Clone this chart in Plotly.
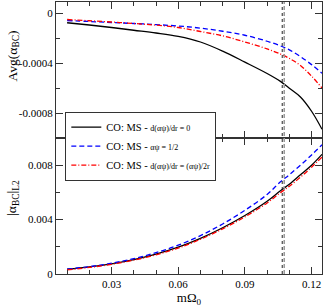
import plotly.graph_objects as go

# ---- data ----
x_grid = [0.010, 0.020, 0.030, 0.040, 0.050, 0.060, 0.070, 0.080, 0.090, 0.100, 0.106,
          0.110, 0.115, 0.120, 0.1247]
avg_zero_deriv = [-0.000078, -0.000096, -0.000116, -0.000138, -0.000160, -0.000187, -0.000232,
                  -0.000305, -0.000393, -0.000484, -0.000547, -0.000602, -0.000672, -0.000786,
                  -0.000930]
avg_half = [-0.000060, -0.000068, -0.000076, -0.000084, -0.000093, -0.000104, -0.000121,
            -0.000146, -0.000178, -0.000226, -0.000263, -0.000295, -0.000349, -0.000413,
            -0.000482]
avg_robin = [-0.000052, -0.000062, -0.000072, -0.000084, -0.000097, -0.000116, -0.000148,
             -0.000183, -0.000232, -0.000287, -0.000328, -0.000363, -0.000420, -0.000505,
             -0.000600]

l2_zero_deriv = [0.00035, 0.00052, 0.00075, 0.00106, 0.00146, 0.00197, 0.00262, 0.00340,
                 0.00430, 0.00535, 0.00612, 0.00660, 0.00730, 0.00800, 0.00880]
l2_half = [0.00036, 0.00054, 0.00079, 0.00113, 0.00157, 0.00212, 0.00282, 0.00368, 0.00468,
           0.00585, 0.00678, 0.00730, 0.00800, 0.00875, 0.00950]
l2_robin = [0.00030, 0.00048, 0.00071, 0.00102, 0.00141, 0.00191, 0.00255, 0.00332, 0.00420,
            0.00522, 0.00598, 0.00645, 0.00712, 0.00785, 0.00860]

vline_dotted = 0.1068
vline_dashed = 0.1077

names = [
    'CO: MS - <span style="font-size:8px">d(αψ)/dr = 0</span>',
    'CO: MS - <span style="font-size:8px">αψ = 1/2</span>',
    'CO: MS - <span style="font-size:8px">d(αψ)/dr = (αψ)/2r</span>',
]
top_ticks = [0, -0.0004, -0.0008]
top_ticktext = ["0", "-0.0004", "-0.0008"]
bot_ticks = [0, 0.004, 0.008]
bot_ticktext = ["0", "0.004", "0.008"]
x_ticks = [0.03, 0.06, 0.09, 0.12]
x_ticktext = ["0.03", "0.06", "0.09", "0.12"]

FONT = "Liberation Serif"
styles = [dict(color="black", width=1.3, dash="solid"),
          dict(color="#0000ff", width=1.3, dash="5px,3px"),
          dict(color="#ff0000", width=1.3, dash="5px,2px,1px,2px")]

fig = go.Figure()
for i, ys in enumerate([avg_zero_deriv, avg_half, avg_robin]):
    fig.add_trace(go.Scatter(x=x_grid, y=ys, mode="lines", line=dict(styles[i], shape="spline"),
                             name=names[i], xaxis="x2", yaxis="y2", showlegend=True))
for i, ys in enumerate([l2_zero_deriv, l2_half, l2_robin]):
    fig.add_trace(go.Scatter(x=x_grid, y=ys, mode="lines", line=dict(styles[i], shape="spline"),
                             name=names[i], xaxis="x", yaxis="y", showlegend=False))

for xv, dash, col, w in [(vline_dotted, "dot", "#222222", 1), (vline_dashed, "4px,2px", "#999999", 1.5)]:
    fig.add_shape(type="line", xref="x", yref="paper", x0=xv, x1=xv, y0=0, y1=1,
                  line=dict(color=col, width=w, dash=dash))

axis_common = dict(showline=True, linecolor="#333333", linewidth=1.3, mirror="ticks",
                   ticks="inside", ticklen=7, tickwidth=1.2, tickcolor="#333333",
                   showgrid=False, zeroline=False,
                   tickfont=dict(family=FONT, size=11, color="black"))
xr = [0.005, 0.1247]
minor_x = dict(ticks="inside", ticklen=4, tickcolor="#333333", dtick=0.01, tick0=0)
fig.update_layout(
    width=324, height=307,
    margin=dict(l=56, r=2, t=2, b=33),
    paper_bgcolor="white", plot_bgcolor="white",
    font=dict(family=FONT, color="black"),
    xaxis=dict(axis_common, range=xr, domain=[0, 1], anchor="y", tickvals=x_ticks,
               ticktext=x_ticktext, minor=minor_x,
               title=dict(text="mΩ<sub>0</sub>", font=dict(family=FONT, size=13), standoff=2)),
    yaxis=dict(axis_common, range=[0, 0.0100], domain=[0, 0.5], anchor="x",
               tickvals=bot_ticks, ticktext=bot_ticktext,
               minor=dict(ticks="inside", ticklen=4, tickcolor="#333333", dtick=0.002, tick0=0)),
    xaxis2=dict(axis_common, range=xr, domain=[0, 1], anchor="y2", matches="x",
                showticklabels=False, tickvals=x_ticks, minor=minor_x),
    yaxis2=dict(axis_common, range=[-0.0010, 0.000088], domain=[0.5, 1], anchor="x2",
                tickvals=top_ticks, ticktext=top_ticktext,
                minor=dict(ticks="inside", ticklen=4, tickcolor="#333333", dtick=0.0002, tick0=0)),
    legend=dict(x=0.035, y=0.597, xanchor="left", yanchor="top", bgcolor="white",
                bordercolor="#333333", borderwidth=1,
                font=dict(family=FONT, size=10.5, color="black"),
                tracegroupgap=0, itemwidth=30),
    showlegend=True,
)
fig.add_annotation(text="Avg(α<sub>BC</sub>)", xref="paper", yref="paper", x=0, y=0.80,
                   xshift=-43, textangle=-90, showarrow=False, xanchor="center", yanchor="middle",
                   font=dict(family=FONT, size=13.5, color="black"))
fig.add_annotation(text="|α<sub>BC</sub>|<sub>L2</sub>", xref="paper", yref="paper", x=0, y=0.28,
                   xshift=-43, textangle=-90, showarrow=False, xanchor="center", yanchor="middle",
                   font=dict(family=FONT, size=13.5, color="black"))
fig.write_html("out.html", config={"displayModeBar": False},
               post_script="document.body.style.margin='0';document.body.style.overflow='hidden';")
